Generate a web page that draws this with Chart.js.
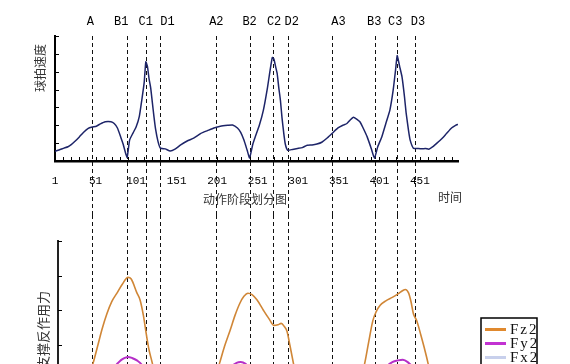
<!DOCTYPE html>
<html>
<head>
<meta charset="utf-8">
<script src="https://cdn.jsdelivr.net/npm/chart.js@4.4.0/dist/chart.umd.min.js"></script>
<style>
html, body { margin: 0; padding: 0; background: #fff; overflow: hidden; }
#wrap { position: relative; width: 570px; height: 364px; overflow: hidden; }
#speedChart { position: absolute; left: 0; top: 0; }
#forceChart { position: absolute; left: 0; top: 215px; }
</style>
</head>
<body>
<div id="wrap">
  <canvas id="speedChart" width="570" height="215"></canvas>
  <canvas id="forceChart" width="570" height="230"></canvas>
</div>
<script>
// Phase markers (frame number of each dashed line)
const phaseNames = ['A', 'B1', 'C1', 'D1', 'A2', 'B2', 'C2', 'D2', 'A3', 'B3', 'C3', 'D3'];
const phaseFrames = [47, 90, 113, 131, 200, 241, 270, 288, 342, 396, 423, 445];

// x tick labels of the upper panel
const frameTicks = [1, 51, 101, 151, 201, 251, 301, 351, 401, 451];
const speedTicks = [0, 1, 2, 3, 4, 5, 6, 7];
const forceTicks = [0, 1, 2, 3, 4, 5];

// Racket speed (upper panel)
const speedFrames = [1, 6, 12, 17, 21, 26, 31, 36, 42, 47, 52, 57, 63, 70, 74, 78, 82, 85, 88, 90,
  93, 97, 101, 105, 108, 111, 113, 115, 117, 119, 121, 123, 125, 128, 131, 137, 143, 149, 156, 164,
  172, 181, 189, 197, 205, 214, 220, 226, 230, 234, 238, 241,
  245, 248, 253, 258, 263, 266, 269, 271, 273, 275, 277, 279, 281, 283, 285, 288, 294, 300, 306,
  312, 318, 324, 330, 337, 344, 350, 356, 361, 365, 369, 373, 377, 381, 386, 391, 395,
  399, 404, 409, 414, 418, 421, 423, 426, 429, 432, 434, 437, 439, 443, 448, 453, 458, 462, 467,
  472, 478, 484, 490, 495, 498];
const speedValues = [0.55, 0.62, 0.72, 0.8, 0.92, 1.12, 1.35, 1.6, 1.83, 1.9, 1.95, 2.08, 2.2, 2.2, 2.1, 1.85, 1.35, 0.95, 0.45, 0.2,
  1.17, 1.55, 1.9, 2.5, 3.4, 4.4, 5.55, 5.3, 4.6, 4.1, 3.3, 2.5, 1.8, 1.1, 0.72, 0.68, 0.56, 0.66, 0.9, 1.12,
  1.28, 1.55, 1.7, 1.85, 1.95, 2.0, 2.02, 1.85, 1.6, 1.17, 0.6, 0.17,
  0.95, 1.36, 2.0, 2.85, 4.1, 5.0, 5.8, 5.7, 5.3, 4.9, 4.1, 3.4, 2.4, 1.6, 0.95, 0.6, 0.65, 0.7, 0.75,
  0.88, 0.9, 0.95, 1.05, 1.3, 1.6, 1.85, 2.0, 2.1, 2.3, 2.45, 2.35, 2.2, 1.85, 1.35, 0.7, 0.15,
  0.8, 1.35, 2.1, 2.85, 3.95, 5.1, 5.9, 5.3, 4.7, 3.6, 2.7, 1.7, 1.17, 0.72, 0.7, 0.68, 0.7, 0.66, 0.8,
  1.0, 1.25, 1.55, 1.85, 2.0, 2.05];

// Ground reaction forces (lower panel)
const fz2Frames = [1, 30, 38, 43, 48, 54, 59, 65, 71, 77, 84, 91, 95, 102, 106, 110, 114, 117, 121, 126, 131, 140,
  185, 194, 199, 204, 210, 217, 223, 229, 234, 239, 244, 250, 258, 265, 271, 276, 280, 284, 287, 291, 295, 300, 305, 315,
  370, 375, 379, 383, 388, 393, 397, 402, 409, 417, 424, 430, 433, 437, 440, 443, 447, 452, 456, 461, 466, 471, 480, 498];
const fz2Values = [0.2, 0.2, 0.6, 1.1, 1.47, 2.0, 2.45, 2.9, 3.25, 3.48, 3.75, 3.95, 3.9, 3.5, 3.29, 2.85, 2.25, 1.85, 1.47, 0.84, 0.4, 0.2,
  0.2, 0.7, 1.1, 1.47, 1.95, 2.42, 2.85, 3.2, 3.4, 3.49, 3.45, 3.3, 3.0, 2.75, 2.56, 2.58, 2.62, 2.52, 2.4, 1.95, 1.47, 0.84, 0.4, 0.2,
  0.3, 0.7, 1.1, 1.47, 2.1, 2.7, 2.95, 3.14, 3.27, 3.37, 3.47, 3.57, 3.6, 3.5, 3.25, 2.9, 2.7, 2.3, 1.95, 1.47, 0.84, 0.4, 0.2, 0.2];

const fy2Frames = [62, 70, 76, 82, 87, 91, 96, 102, 108, 114, 121,
  203, 212, 219, 225, 230, 236, 242, 249, 257,
  392, 402, 410, 417, 424, 430, 436, 442, 449, 457];
const fy2Values = [0.6, 1.1, 1.4, 1.55, 1.62, 1.65, 1.62, 1.55, 1.42, 1.1, 0.6,
  0.6, 1.1, 1.38, 1.48, 1.5, 1.45, 1.3, 1.0, 0.6,
  0.6, 1.1, 1.38, 1.5, 1.55, 1.57, 1.5, 1.35, 1.05, 0.6];

// third curve lies below the visible window
const fx2Frames = [];
const fx2Values = [];

const minorTicks = [];
for (let v = 1; v <= 491; v += 10) minorTicks.push(v);

function toPoints(xs, ys) {
    return xs.map((x, i) => ({ x: x, y: ys[i] }));
}

const cjkFont = '"Noto Sans CJK SC", sans-serif';
const phaseLabelShift = [-2, -6, 0, 7, 0, 0, 1, 4, 7, -1, -2, 3];

// Dashed phase lines (and their names on the upper panel)
function phaseLines(withLabels) {
    return {
        id: 'phaseLines',
        beforeDatasetsDraw(chart) {
            const { ctx, chartArea, scales } = chart;
            const top = withLabels ? chartArea.top : 0;
            ctx.save();
            ctx.strokeStyle = '#111';
            ctx.lineWidth = 1;
            ctx.setLineDash([4, 3]);
            phaseFrames.forEach(f => {
                const px = Math.round(scales.x.getPixelForValue(f)) + 0.5;
                ctx.beginPath();
                ctx.moveTo(px, top);
                ctx.lineTo(px, chart.height);
                ctx.stroke();
            });
            ctx.setLineDash([]);
            if (withLabels) {
                ctx.fillStyle = '#000';
                ctx.font = '12px "Liberation Mono", monospace';
                ctx.textAlign = 'center';
                ctx.textBaseline = 'middle';
                phaseFrames.forEach((f, i) => {
                    ctx.fillText(phaseNames[i], scales.x.getPixelForValue(f) + phaseLabelShift[i], 22);
                });
            }
            ctx.restore();
        }
    };
}

// Short ticks pointing into the plot
function innerTicks(yTickValues, withX) {
    return {
        id: 'innerTicks',
        afterDraw(chart) {
            const { ctx, chartArea, scales } = chart;
            ctx.save();
            ctx.strokeStyle = '#000';
            ctx.lineWidth = 1;
            ctx.beginPath();
            if (withX) {
                scales.x.ticks.forEach(t => {
                    const px = Math.round(scales.x.getPixelForValue(t.value)) + 0.5;
                    ctx.moveTo(px, chartArea.bottom);
                    ctx.lineTo(px, chartArea.bottom - 4);
                });
            }
            yTickValues.forEach(v => {
                const py = Math.round(scales.y.getPixelForValue(v)) + 0.5;
                ctx.moveTo(chartArea.left, py);
                ctx.lineTo(chartArea.left + 4, py);
            });
            ctx.stroke();
            ctx.restore();
        }
    };
}

// Free text (axis names)
function freeText(items) {
    return {
        id: 'freeText',
        afterDraw(chart) {
            const ctx = chart.ctx;
            ctx.save();
            ctx.fillStyle = '#333';
            ctx.textAlign = 'center';
            ctx.textBaseline = 'middle';
            items.forEach(it => {
                ctx.font = it.size + 'px ' + cjkFont;
                ctx.save();
                ctx.translate(it.x, it.y);
                if (it.vertical) ctx.rotate(-Math.PI / 2);
                ctx.fillText(it.text, 0, 0);
                ctx.restore();
            });
            ctx.restore();
        }
    };
}

// Boxed legend at the lower right
const boxLegend = {
    id: 'boxLegend',
    afterDraw(chart) {
        const ctx = chart.ctx;
        const left = 481, top = 103, w = 56;
        ctx.save();
        ctx.fillStyle = '#fff';
        ctx.fillRect(left, top, w, chart.height - top);
        ctx.strokeStyle = '#000';
        ctx.lineWidth = 1.5;
        ctx.strokeRect(left, top, w, chart.height - top + 10);
        chart.data.datasets.forEach((ds, i) => {
            const y = top + 11.5 + i * 14;
            ctx.strokeStyle = ds.legendColor;
            ctx.lineWidth = 3;
            ctx.beginPath();
            ctx.moveTo(left + 4, y);
            ctx.lineTo(left + 25, y);
            ctx.stroke();
            ctx.fillStyle = '#111';
            ctx.font = '15px "Liberation Serif", serif';
            ctx.textBaseline = 'middle';
            ctx.letterSpacing = '2px';
            ctx.fillText(ds.label, left + 29, y + 1);
            ctx.letterSpacing = '0px';
        });
        ctx.restore();
    }
};

// Upper panel: racket speed
new Chart(document.getElementById('speedChart').getContext('2d'), {
    type: 'line',
    data: {
        datasets: [{
            label: '球拍速度',
            data: toPoints(speedFrames, speedValues),
            borderColor: '#1d2468',
            borderWidth: 1.5,
            pointRadius: 0,
            tension: 0.15
        }]
    },
    options: {
        responsive: false,
        animation: false,
        layout: { padding: { left: 0, right: 112, top: 36, bottom: 0 } },
        plugins: { legend: { display: false }, tooltip: { enabled: false } },
        scales: {
            x: {
                type: 'linear',
                min: 1,
                max: 498,
                afterBuildTicks: s => { s.ticks = minorTicks.map(v => ({ value: v })); },
                afterFit: s => { s.height = 54; },
                grid: { drawOnChartArea: false, drawTicks: false },
                border: { color: '#000', width: 2.5 },
                ticks: {
                    autoSkip: false,
                    maxRotation: 0,
                    padding: 13,
                    color: '#000',
                    font: { family: '"Liberation Mono", monospace', size: 11 },
                    callback: v => frameTicks.includes(v) ? String(v) : ''
                }
            },
            y: {
                min: 0,
                max: 7,
                afterFit: s => { s.width = 55; },
                grid: { drawOnChartArea: false, drawTicks: false },
                border: { color: '#000', width: 2 },
                ticks: { display: false }
            }
        }
    },
    plugins: [
        phaseLines(true),
        innerTicks(speedTicks, true),
        freeText([
            { text: '球拍速度', x: 40, y: 68, size: 12, vertical: true },
            { text: '动作阶段划分图', x: 245, y: 199, size: 12 },
            { text: '时间', x: 450, y: 197, size: 12 }
        ])
    ]
});

// Lower panel: ground reaction forces
new Chart(document.getElementById('forceChart').getContext('2d'), {
    type: 'line',
    data: {
        datasets: [
            {
                label: 'Fz2',
                data: toPoints(fz2Frames, fz2Values),
                borderColor: '#d08636',
                legendColor: '#e0892e',
                borderWidth: 1.6,
                pointRadius: 0,
                cubicInterpolationMode: 'monotone'
            },
            {
                label: 'Fy2',
                data: toPoints(fy2Frames, fy2Values),
                borderColor: '#b52fc8',
                legendColor: '#c232d2',
                borderWidth: 2,
                pointRadius: 0,
                cubicInterpolationMode: 'monotone'
            },
            {
                label: 'Fx2',
                data: toPoints(fx2Frames, fx2Values),
                borderColor: '#b4c0e0',
                legendColor: '#c8d0ec',
                borderWidth: 2,
                pointRadius: 0
            }
        ]
    },
    options: {
        responsive: false,
        animation: false,
        layout: { padding: { left: 0, right: 112, top: 26, bottom: 31 } },
        plugins: { legend: { display: false }, tooltip: { enabled: false } },
        scales: {
            x: { type: 'linear', min: 4.7, max: 498, display: false },
            y: {
                min: 0,
                max: 5,
                afterFit: s => { s.width = 58; },
                grid: { drawOnChartArea: false, drawTicks: false },
                border: { color: '#222', width: 2 },
                ticks: { display: false }
            }
        }
    },
    plugins: [
        phaseLines(false),
        innerTicks(forceTicks, false),
        boxLegend,
        freeText([
            { text: '支撑反作用力', x: 43, y: 115, size: 13, vertical: true }
        ])
    ]
});
</script>
</body>
</html>
